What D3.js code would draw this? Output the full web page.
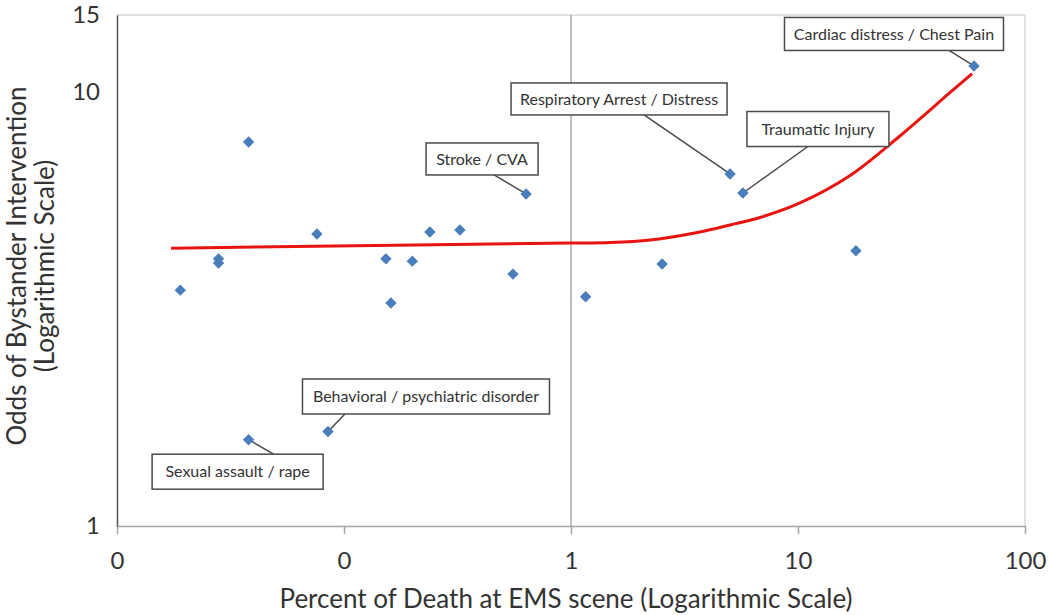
<!DOCTYPE html>
<html>
<head>
<meta charset="utf-8">
<script src="https://cdn.jsdelivr.net/npm/d3@7"></script>
<style>
  body { margin: 0; background: white; }
  svg text { font-family: Lato, "Open Sans", sans-serif; fill: #333; }
</style>
</head>
<body>
<svg></svg>
<script>
// colours
const POINT_COLOR = '#4a7ebb';
const TREND_COLOR = '#e8140f';
const BOX_STROKE = '#4a4a4a';

// data: percent of death at EMS scene vs odds of bystander intervention
const pctDeath = [0.019, 0.028, 0.028, 0.038, 0.038, 0.076, 0.085, 0.153, 0.161, 0.2,
  0.239, 0.324, 0.555, 0.634, 1.16, 2.52, 5.02, 5.72, 18.0, 59.6];
const odds = [3.49, 4.12, 4.03, 7.65, 1.58, 4.70, 1.65, 4.12, 3.26, 4.07,
  4.75, 4.80, 3.80, 5.81, 3.37, 4.01, 6.46, 5.84, 4.30, 11.45];
const pointNames = ['', '', '', '', 'Sexual assault / rape', '', 'Behavioral / psychiatric disorder',
  '', '', '', '', '', '', 'Stroke / CVA', '', '', 'Respiratory Arrest / Distress',
  'Traumatic Injury', '', 'Cardiac distress / Chest Pain'];

// trend line
const trendX = [0.0173, 1.0, 1.49, 2.23, 3.7, 5.02, 6.81, 10.2, 16.9, 28.1, 46.8, 58.5];
const trendY = [4.36, 4.48, 4.49, 4.55, 4.75, 4.93, 5.13, 5.54, 6.4, 7.9, 9.95, 11.0];

// axis ticks
const xTicks = [0.01, 0.1, 1, 10, 100];
const yTicks = [1, 10, 15];

// label box placement (layout, relative to the point)
const boxLayout = {
  'Cardiac distress / Chest Pain': { dx: -80, dy: -32, w: 219, h: 33, ax: 55, side: 'bottom' },
  'Respiratory Arrest / Distress': { dx: -111, dy: -75, w: 216, h: 32, ax: 25, side: 'bottom' },
  'Traumatic Injury': { dx: 75, dy: -64, w: 142, h: 35, ax: -10, side: 'bottom' },
  'Stroke / CVA': { dx: -44, dy: -35, w: 112, h: 32, ax: 12, side: 'bottom' },
  'Behavioral / psychiatric disorder': { dx: 98, dy: -35, w: 247, h: 35, ax: -81, side: 'bottom' },
  'Sexual assault / rape': { dx: -11, dy: 32, w: 171, h: 35, ax: 36, side: 'top' }
};

const width = 1050;
const height = 615;
const margin = { top: 15, right: 25, bottom: 89, left: 117 };

const svg = d3.select('svg')
  .attr('width', width)
  .attr('height', height);

svg.append('rect')
  .attr('width', width)
  .attr('height', height)
  .attr('fill', 'white');

const x = d3.scaleLog()
  .domain([0.01, 100])
  .range([margin.left, width - margin.right]);

const y = d3.scaleLog()
  .domain([1, 15])
  .range([height - margin.bottom, margin.top]);

const plotBottom = height - margin.bottom;

// frame: top and right light
svg.append('line')
  .attr('x1', margin.left).attr('x2', width - margin.right)
  .attr('y1', margin.top).attr('y2', margin.top)
  .attr('stroke', '#d9d9d9').attr('stroke-width', 1.5);
svg.append('line')
  .attr('x1', width - margin.right).attr('x2', width - margin.right)
  .attr('y1', margin.top).attr('y2', plotBottom)
  .attr('stroke', '#d9d9d9').attr('stroke-width', 1.5);

// vertical reference line at 1%
svg.append('line')
  .attr('x1', x(1)).attr('x2', x(1))
  .attr('y1', margin.top).attr('y2', plotBottom)
  .attr('stroke', '#aaa').attr('stroke-width', 1.5);

// x axis
const xAxis = svg.append('g')
  .attr('transform', `translate(0,${plotBottom})`)
  .call(d3.axisBottom(x).tickValues(xTicks).tickFormat(d3.format('.0f')).tickSize(8).tickSizeOuter(0));
xAxis.select('.domain').attr('stroke', '#a6a6a6').attr('stroke-width', 1.5);
xAxis.selectAll('.tick line').attr('stroke', '#a6a6a6').attr('stroke-width', 1.5);
xAxis.selectAll('.tick text')
  .attr('y', 43).attr('dy', 0)
  .style('font-size', '24px');

// y axis
const yAxis = svg.append('g')
  .attr('transform', `translate(${margin.left},0)`)
  .call(d3.axisLeft(y).tickValues(yTicks).tickFormat(d3.format('.0f')).tickSize(0).tickPadding(17).tickSizeOuter(0));
yAxis.select('.domain').attr('stroke', '#555').attr('stroke-width', 1.5);
yAxis.selectAll('.tick text')
  .style('font-size', '24px');

// axis titles
svg.append('text')
  .attr('x', 566)
  .attr('y', 608)
  .attr('text-anchor', 'middle')
  .style('font-size', '26px')
  .text('Percent of Death at EMS scene (Logarithmic Scale)');

const yTitle = svg.append('text')
  .attr('transform', 'translate(0,266) rotate(-90)')
  .attr('text-anchor', 'middle')
  .style('font-size', '26px');
yTitle.append('tspan').attr('x', 0).attr('y', 26).text('Odds of Bystander Intervention');
yTitle.append('tspan').attr('x', 0).attr('y', 54).text('(Logarithmic Scale)');

// trend line
const trend = d3.zip(trendX, trendY);
svg.append('path')
  .datum(trend)
  .attr('fill', 'none')
  .attr('stroke', TREND_COLOR)
  .attr('stroke-width', 3)
  .attr('d', d3.line().x(d => x(d[0])).y(d => y(d[1])).curve(d3.curveCatmullRom.alpha(0.5)));

// points
const points = pctDeath.map((v, i) => ({ pct: v, odds: odds[i], name: pointNames[i] }));

// label connectors and boxes
const labelled = points.filter(d => d.name);
const labelG = svg.append('g');
labelled.forEach(d => {
  const b = boxLayout[d.name];
  const px = x(d.pct), py = y(d.odds);
  const cx = px + b.dx, cy = py + b.dy;
  const ay = b.side === 'bottom' ? cy + b.h / 2 : cy - b.h / 2;
  labelG.append('line')
    .attr('x1', px).attr('y1', py)
    .attr('x2', cx + b.ax).attr('y2', ay)
    .attr('stroke', BOX_STROKE).attr('stroke-width', 1.5);
  labelG.append('rect')
    .attr('x', cx - b.w / 2).attr('y', cy - b.h / 2)
    .attr('width', b.w).attr('height', b.h)
    .attr('fill', 'white')
    .attr('stroke', BOX_STROKE).attr('stroke-width', 1.5);
  labelG.append('text')
    .attr('x', cx).attr('y', cy)
    .attr('dy', '0.36em')
    .attr('text-anchor', 'middle')
    .style('font-size', '16px')
    .text(d.name);
});

svg.append('g').selectAll('path')
  .data(points)
  .enter().append('path')
  .attr('transform', d => `translate(${x(d.pct)},${y(d.odds)}) rotate(45)`)
  .attr('d', d3.symbol().type(d3.symbolSquare).size(65))
  .attr('fill', POINT_COLOR);
</script>
</body>
</html>
